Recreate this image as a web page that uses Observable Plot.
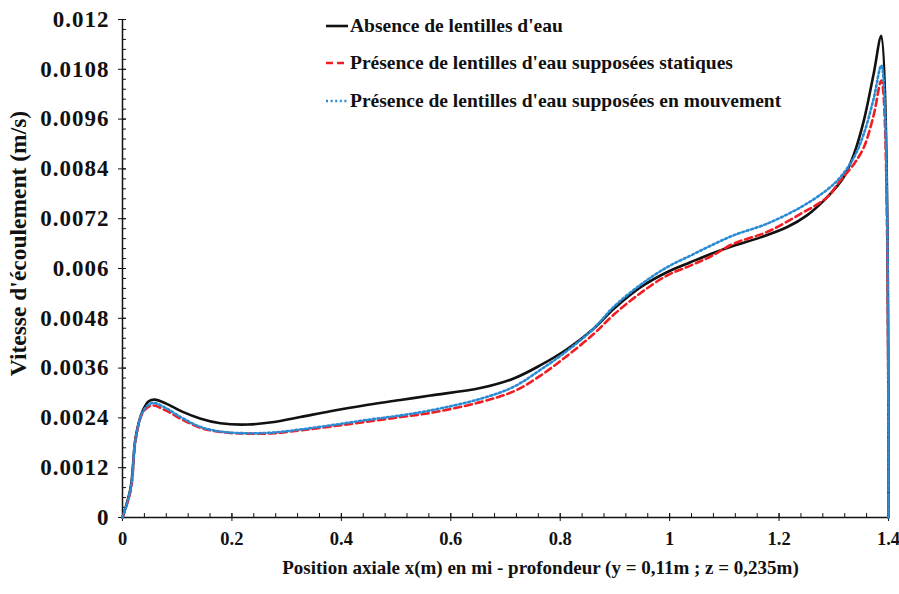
<!DOCTYPE html>
<html><head><meta charset="utf-8">
<script src="https://cdn.jsdelivr.net/npm/d3@7"></script>
<script src="https://cdn.jsdelivr.net/npm/@observablehq/plot@0.6"></script>
<style>
body{margin:0;background:#fff}
#wrap{position:relative;width:899px;height:594px;font-family:"Liberation Serif","Times New Roman",serif;font-weight:bold;color:#111}
#wrap svg.plot{position:absolute;left:0;top:0}
#wrap svg.plot g[aria-label="y-axis tick label"] text{letter-spacing:1px}
.legend{position:absolute;left:326px;top:7px}
.row{display:flex;align-items:center;height:37.5px;font-size:19.5px;white-space:nowrap}
.row svg{margin-right:2px}
</style></head>
<body><div id="wrap"></div>
<script>
// Series names
const seriesNames = ["Absence de lentilles d'eau", "Présence de lentilles d'eau supposées statiques", "Présence de lentilles d'eau supposées en mouvement"];

// Absence de lentilles d'eau
const xAbs = [0, 0.015, 0.024, 0.036, 0.048, 0.059, 0.079, 0.109, 0.143, 0.179, 0.228, 0.277, 0.325, 0.38, 0.441, 0.508, 0.563, 0.654, 0.715, 0.764, 0.813, 0.861, 0.898, 0.947, 0.995, 1.038, 1.075, 1.117, 1.166, 1.215, 1.251, 1.288, 1.318, 1.337, 1.355, 1.373, 1.387, 1.4];
const yAbs = [0, 0.00073, 0.00193, 0.00254, 0.0028, 0.00284, 0.00275, 0.00255, 0.00238, 0.00227, 0.00224, 0.0023, 0.00242, 0.00256, 0.0027, 0.00283, 0.00294, 0.00312, 0.00335, 0.00367, 0.00406, 0.00455, 0.00503, 0.00555, 0.00591, 0.00615, 0.00635, 0.00655, 0.00675, 0.007, 0.00728, 0.00772, 0.0082, 0.00876, 0.00957, 0.0107, 0.01161, 0];

// Présence ... statiques
const xStat = [0, 0.015, 0.024, 0.036, 0.048, 0.057, 0.079, 0.109, 0.143, 0.179, 0.228, 0.277, 0.325, 0.38, 0.441, 0.508, 0.563, 0.654, 0.715, 0.764, 0.813, 0.861, 0.898, 0.947, 0.995, 1.038, 1.075, 1.117, 1.178, 1.24, 1.288, 1.312, 1.337, 1.355, 1.373, 1.387, 1.4];
const yStat = [0, 0.00065, 0.00186, 0.0025, 0.00267, 0.0027, 0.00258, 0.00236, 0.00216, 0.00206, 0.00202, 0.00203, 0.0021, 0.00219, 0.0023, 0.00242, 0.00252, 0.00278, 0.00304, 0.00342, 0.0039, 0.00442, 0.00489, 0.00541, 0.00583, 0.00607, 0.00629, 0.0066, 0.00688, 0.00732, 0.00772, 0.00812, 0.00852, 0.00892, 0.0097, 0.01053, 0];

// Présence ... en mouvement
const xMouv = [0, 0.015, 0.024, 0.036, 0.048, 0.057, 0.079, 0.109, 0.143, 0.179, 0.228, 0.277, 0.325, 0.38, 0.441, 0.508, 0.563, 0.654, 0.715, 0.764, 0.813, 0.861, 0.898, 0.947, 0.995, 1.038, 1.075, 1.117, 1.178, 1.24, 1.288, 1.312, 1.337, 1.355, 1.373, 1.387, 1.4];
const yMouv = [0, 0.0007, 0.0019, 0.00252, 0.00272, 0.00276, 0.00264, 0.0024, 0.00218, 0.00207, 0.00203, 0.00205, 0.00212, 0.00222, 0.00234, 0.00246, 0.00258, 0.00286, 0.00315, 0.00356, 0.00402, 0.00455, 0.00508, 0.00561, 0.00603, 0.00631, 0.00655, 0.0068, 0.00708, 0.00748, 0.0079, 0.0082, 0.00868, 0.00925, 0.0101, 0.01089, 0];

// Tick labels
const xTicks = [0, 0.2, 0.4, 0.6, 0.8, 1, 1.2, 1.4];
const yTicks = [0, 0.0012, 0.0024, 0.0036, 0.0048, 0.006, 0.0072, 0.0084, 0.0096, 0.0108, 0.012];
const xLabel = "Position axiale x(m) en mi - profondeur (y = 0,11m ; z = 0,235m)";
const yLabel = "Vitesse d'écoulement (m/s)";

const colors = ["#111111", "#f01e23", "#2a8bd5"];
const dashes = [null, "7,4", "2,2.6"];

const toRows = (xs, ys, s) => xs.map((x, i) => ({x, y: ys[i], s}));
const data = [
  ...toRows(xAbs, yAbs, seriesNames[0]),
  ...toRows(xStat, yStat, seriesNames[1]),
  ...toRows(xMouv, yMouv, seriesNames[2])
];
const xMinor = d3.range(0, 1.4001, 0.04).map(v => +v.toFixed(2));
const yMinor = d3.range(0, 0.012001, 0.00024).map(v => +v.toFixed(5));
const fmt = d => String(+d.toFixed(4));
const font = "'Liberation Serif','Times New Roman',serif";

const lineMark = (i) => Plot.line(data.filter(d => d.s === seriesNames[i]), {
  x: "x", y: "y", stroke: colors[i], strokeWidth: 2.6,
  strokeDasharray: dashes[i] || undefined, curve: "catmull-rom"
});

const chart = Plot.plot({
  width: 899, height: 594,
  marginLeft: 122, marginRight: 11, marginTop: 19, marginBottom: 77,
  x: {domain: [0, 1.4]},
  y: {domain: [0, 0.012]},
  style: {fontFamily: font, fontWeight: "bold", color: "#111", background: "transparent"},
  marks: [
    Plot.axisX({ticks: xMinor, tickSize: 4, dy: -4, tickFormat: () => "", label: null}),
    Plot.axisX({ticks: xTicks, tickSize: 8, dy: -4, tickFormat: () => "", label: null}),
    Plot.axisX({ticks: xTicks, tickSize: 0, tickPadding: 14, tickFormat: fmt, label: null, fontSize: 18.5}),
    Plot.axisY({ticks: yMinor, tickSize: 4, dx: 4, tickFormat: () => "", label: null}),
    Plot.axisY({ticks: yTicks, tickSize: 8, dx: 4, tickFormat: () => "", label: null}),
    Plot.axisY({ticks: yTicks, tickSize: 0, tickPadding: 13, tickFormat: fmt, label: null, fontSize: 23}),
    Plot.ruleY([0], {stroke: "#111", strokeWidth: 1.5}),
    Plot.ruleX([0], {stroke: "#111", strokeWidth: 1.5}),
    lineMark(0), lineMark(1), lineMark(2),
    Plot.text([xLabel], {text: d => d, frameAnchor: "bottom", lineAnchor: "middle", textAnchor: "middle", dy: 50, dx: 35, fontSize: 19, fontWeight: "bold", fill: "#111"}),
    Plot.text([yLabel], {text: d => d, frameAnchor: "left", rotate: -90, textAnchor: "middle", lineAnchor: "middle", dx: -104, dy: -25, fontSize: 23.5, fontWeight: "bold", fill: "#111"})
  ]
});
chart.classList.add("plot");
const wrap = document.getElementById("wrap");
wrap.appendChild(chart);

const legend = document.createElement("div");
legend.className = "legend";
seriesNames.forEach((name, i) => {
  const row = document.createElement("div");
  row.className = "row";
  row.innerHTML = `<svg width="22" height="10"><line x1="0" y1="5" x2="22" y2="5" stroke="${colors[i]}" stroke-width="2.6" ${dashes[i] ? `stroke-dasharray="${dashes[i]}"` : ""}/></svg><span></span>`;
  row.querySelector("span").textContent = name;
  legend.appendChild(row);
});
wrap.appendChild(legend);
</script>
</body></html>
